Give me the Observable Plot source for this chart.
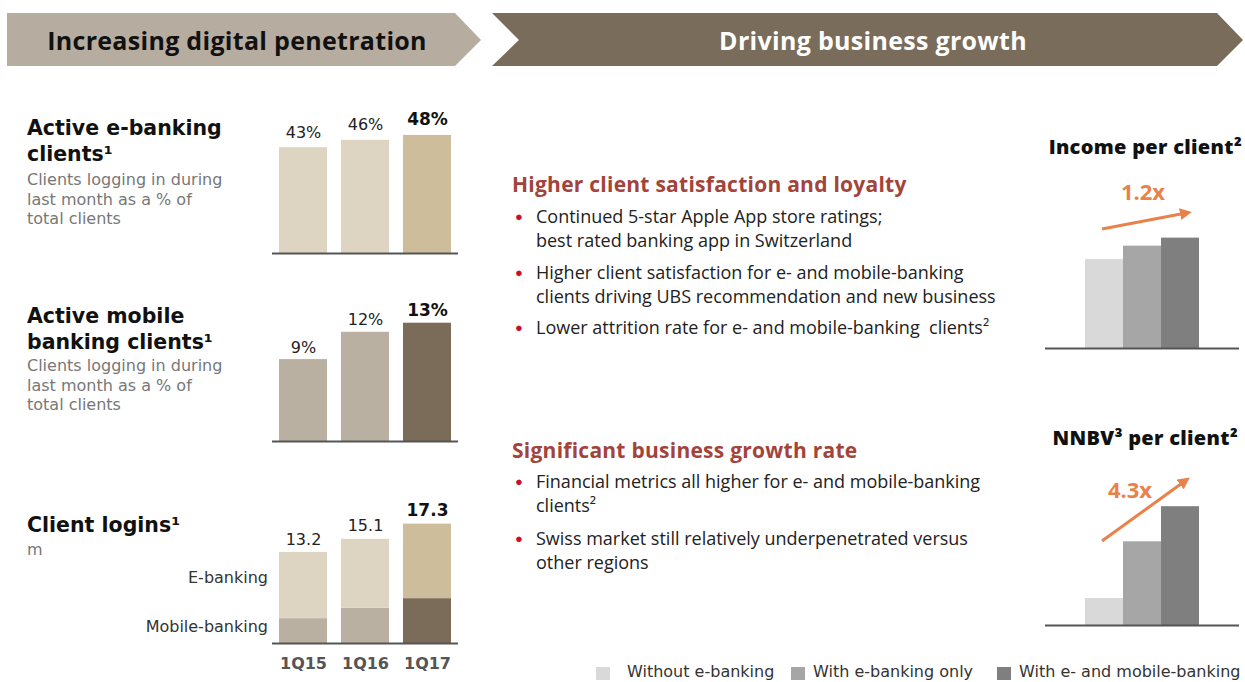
<!DOCTYPE html>
<html><head><meta charset="utf-8">
<script src="https://cdn.jsdelivr.net/npm/d3@7"></script>
<script src="https://cdn.jsdelivr.net/npm/@observablehq/plot@0.6"></script>
<style>
  body{margin:0;background:#fff;font-family:"Open Sans",sans-serif;}
  #root{position:relative;width:1245px;height:682px;overflow:hidden;}
  .abs{position:absolute;white-space:nowrap;}
  .ttl{font-family:"DejaVu Sans",sans-serif;font-weight:700;font-size:20.5px;line-height:26px;color:#111;}
  .sub{font-family:"DejaVu Sans",sans-serif;font-size:16px;line-height:19.5px;color:#777;}
  .hd{font-weight:700;font-size:21px;line-height:24px;color:#a3433a;letter-spacing:0.25px;}
  .para{font-size:18px;line-height:24px;color:#222;}
  .bul{position:absolute;left:-21px;top:0;color:#c8102e;font-size:13px;}
  .rt{font-weight:800;font-size:20px;line-height:24px;color:#111;letter-spacing:0.3px;}
  .mult{font-weight:700;font-size:22px;line-height:24px;color:#e8824a;text-align:center;width:80px;}
  .plot{position:absolute;overflow:visible;}
  .leg{font-family:"DejaVu Sans",sans-serif;font-size:16px;line-height:20px;color:#333;}
  .side{font-family:"DejaVu Sans",sans-serif;font-size:16px;line-height:22px;color:#333;text-align:right;width:168px;left:100px;}
</style>
</head><body><div id="root"></div>
<script>
// ---- data ----
const quarters = ["1Q15", "1Q16", "1Q17"];
const eBankingActivePct = [43, 46, 48];
const mobileActivePct = [9, 12, 13];
const loginsEBanking = [9.6, 10.0, 10.8];
const loginsMobile = [3.6, 5.1, 6.5];
const loginsTotal = [13.2, 15.1, 17.3];
const clientSegments = ["Without e-banking", "With e-banking only", "With e- and mobile-banking"];
const incomePerClientIdx = [1.0, 1.15, 1.24];
const nnbvPerClientIdx = [1.0, 3.1, 4.4];
const incomeMultiple = "1.2x";
const nnbvMultiple = "4.3x";

// ---- colours ----
const beige = ["#ddd5c1", "#ddd5c1", "#cdbd9a"];
const taupe = ["#b9b0a1", "#b9b0a1", "#7b6b59"];
const grays = ["#d9d9d9", "#a6a6a6", "#7f7f7f"];

const root = document.getElementById("root");
function add(html){ root.insertAdjacentHTML("beforeend", html); }

// banners + arrows (decoration)
add(`<svg class="abs" style="left:0;top:0" width="1245" height="682">
  <polygon points="7,13 455,13 481,40 455,66 7,66" fill="#b6ada0"/>
  <polygon points="492,13 1217,13 1243,40 1217,66 492,66 519,40" fill="#7a6c5a"/>
  <defs><marker id="ah" viewBox="0 0 10 10" refX="5" refY="5" markerWidth="4" markerHeight="4" orient="auto"><path d="M0,0 L10,5 L0,10 z" fill="#e8824a"/></marker></defs>
  <line x1="1102" y1="229" x2="1186" y2="213" stroke="#e8824a" stroke-width="3" marker-end="url(#ah)"/>
  <line x1="1102" y1="541" x2="1185" y2="481" stroke="#e8824a" stroke-width="3" marker-end="url(#ah)"/>
</svg>`);
add(`<div class="abs" style="left:0px;width:474px;top:24px;text-align:center;font-weight:700;font-size:25px;letter-spacing:0.3px;line-height:32px;color:#111">Increasing digital penetration</div>`);
add(`<div class="abs" style="left:519px;width:708px;top:24px;text-align:center;font-weight:700;font-size:25px;letter-spacing:0.3px;line-height:32px;color:#fff">Driving business growth</div>`);

// left titles
add(`<div class="abs ttl" style="left:27px;top:115px">Active e-banking<br>clients¹</div>`);
add(`<div class="abs sub" style="left:27px;top:170px">Clients logging in during<br>last month as a % of<br>total clients</div>`);
add(`<div class="abs ttl" style="left:27px;top:303px">Active mobile<br>banking clients¹</div>`);
add(`<div class="abs sub" style="left:27px;top:356px">Clients logging in during<br>last month as a % of<br>total clients</div>`);
add(`<div class="abs ttl" style="left:27px;top:512px">Client logins¹</div>`);
add(`<div class="abs sub" style="left:27px;top:540px">m</div>`);
add(`<div class="abs side" style="top:567px">E-banking</div>`);
add(`<div class="abs side" style="top:616px">Mobile-banking</div>`);

// middle text
function para(top, html){ add(`<div class="abs para" style="left:536px;top:${top}px"><span class="bul">●</span>${html}</div>`); }
add(`<div class="abs hd" style="left:512px;top:172px">Higher client satisfaction and loyalty</div>`);
para(204, "Continued 5-star Apple App store ratings;<br>best rated banking app in Switzerland");
para(260, "Higher client satisfaction for e- and mobile-banking<br>clients driving UBS recommendation and new business");
para(315, "Lower attrition rate for e- and mobile-banking&nbsp; clients²");
add(`<div class="abs hd" style="left:512px;top:438px">Significant business growth rate</div>`);
para(469, "Financial metrics all higher for e- and mobile-banking<br>clients²");
para(526, "Swiss market still relatively underpenetrated versus<br>other regions");

// right titles
add(`<div class="abs rt" style="right:3px;top:135px">Income per client²</div>`);
add(`<div class="abs mult" style="left:1103px;top:179px">${incomeMultiple}</div>`);
add(`<div class="abs rt" style="right:7px;top:426px">NNBV³ per client²</div>`);
add(`<div class="abs mult" style="left:1090px;top:477px">${nnbvMultiple}</div>`);

// legend
const legSq = [596, 791, 997];
const legTx = [627, 813, 1019];
clientSegments.forEach((s, i) => {
  add(`<div class="abs" style="left:${legSq[i]}px;top:667px;width:14px;height:13px;background:${grays[i]}"></div>`);
  add(`<div class="abs leg" style="left:${legTx[i]}px;top:662px">${s}</div>`);
});

// ---- charts ----
const font = {fontFamily: "DejaVu Sans, sans-serif", fontSize: "16px", background: "transparent", overflow: "visible"};
function place(svg, left, top){ svg.classList.add("plot"); svg.style.left = left + "px"; svg.style.top = top + "px"; root.appendChild(svg); }

function pctChart(values, colors, yMax, mt, height, label, dy){
  const data = quarters.map((q, i) => ({q, v: values[i], c: colors[i], last: i === 2}));
  return Plot.plot({
    width: 205, height, marginTop: mt, marginBottom: 7, marginLeft: 10, marginRight: 9,
    style: font,
    x: {domain: quarters, paddingInner: 0.232, paddingOuter: 0.104, axis: null},
    y: {domain: [0, yMax], axis: null},
    color: {type: "identity"},
    marks: [
      Plot.barY(data, {x: "q", y: "v", fill: "c"}),
      Plot.ruleY([0], {stroke: "#555", strokeWidth: 2}),
      Plot.text(data.filter(d => !d.last), {x: "q", y: "v", text: label, dy, fill: "#222", fontSize: 16}),
      Plot.text(data.filter(d => d.last), {x: "q", y: "v", text: label, dy: dy - 1, fill: "#111", fontSize: 17, fontWeight: "bold"})
    ]
  });
}
place(pctChart(eBankingActivePct, beige, 50, 30, 160, d => d.v + "%", -15), 262, 100);
place(pctChart(mobileActivePct, taupe, 15, 14.5, 158, d => d.v + "%", -12), 262, 290);

// stacked logins
const loginRows = [];
quarters.forEach((q, i) => loginRows.push({q, type: "Mobile-banking", v: loginsMobile[i], c: taupe[i]}));
quarters.forEach((q, i) => loginRows.push({q, type: "E-banking", v: loginsEBanking[i], c: beige[i]}));
const totalRows = quarters.map((q, i) => ({q, v: loginsTotal[i], last: i === 2}));
const loginMarks = [
  Plot.barY(loginRows, {x: "q", y: "v", fill: "c"}),
  Plot.ruleY([0], {stroke: "#555", strokeWidth: 2}),
  Plot.text(totalRows.filter(d => !d.last), {x: "q", y: "v", text: d => d.v.toFixed(1), dy: -13, fill: "#222", fontSize: 16}),
  Plot.text(totalRows.filter(d => d.last), {x: "q", y: "v", text: d => d.v.toFixed(1), dy: -14, fill: "#111", fontSize: 17, fontWeight: "bold"})
];
if (Plot.axisX) loginMarks.push(Plot.axisX({tickSize: 0, tickPadding: 14, fontSize: 16, fontWeight: "bold", color: "#555", label: null}));
place(Plot.plot({
  width: 205, height: 183, marginTop: 15, marginBottom: 30, marginLeft: 10, marginRight: 9,
  style: font,
  x: {domain: quarters, paddingInner: 0.232, paddingOuter: 0.104, tickSize: 0, label: null},
  y: {domain: [0, 20], axis: null},
  color: {type: "identity"},
  marks: loginMarks
}), 262, 490);

// right index charts
function idxChart(values, yMax, mt, height){
  const data = clientSegments.map((s, i) => ({s, v: values[i], c: grays[i]}));
  return Plot.plot({
    width: 205, height, marginTop: mt, marginBottom: 5, marginLeft: 5, marginRight: 6,
    style: font,
    x: {domain: clientSegments, paddingInner: 0, paddingOuter: 1.01, axis: null},
    y: {domain: [0, yMax], axis: null},
    color: {type: "identity"},
    marks: [
      Plot.barY(data, {x: "s", y: "v", fill: "c"}),
      Plot.ruleY([0], {stroke: "#555", strokeWidth: 2})
    ]
  });
}
place(idxChart(incomePerClientIdx, 1.4, 23.4, 153), 1040, 200);
place(idxChart(nnbvPerClientIdx, 5, 10, 150), 1040, 480);
</script></body></html>
